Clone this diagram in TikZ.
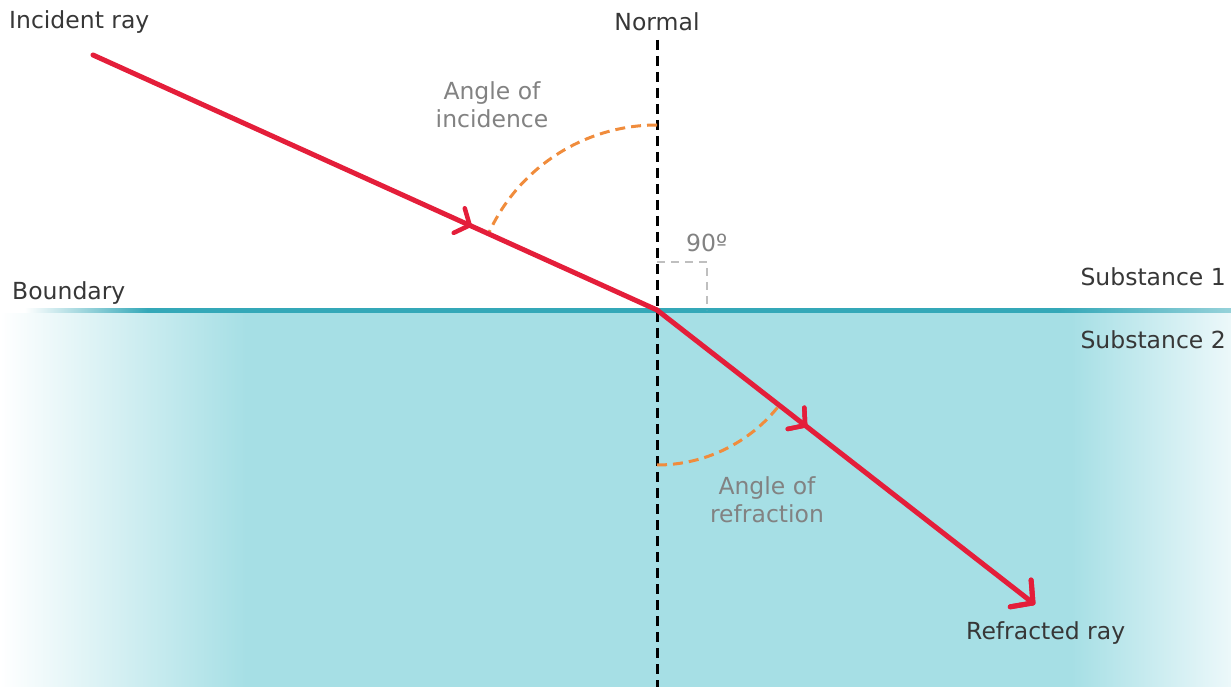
\documentclass[tikz,border=0pt]{standalone}
\usepackage{fontspec}
\setmainfont{DejaVu Sans}
\usepackage{xcolor}
\usetikzlibrary{positioning,arrows.meta,decorations.markings,calc}

\definecolor{rayred}{RGB}{228,30,58}
\definecolor{water}{RGB}{166,223,229}
\definecolor{paleend}{RGB}{236,248,250}
\definecolor{edgeteal}{RGB}{52,168,184}
\definecolor{edgepale}{RGB}{150,210,218}
\definecolor{arcorange}{RGB}{240,140,60}
\definecolor{labdark}{RGB}{55,55,55}
\definecolor{labgrey}{RGB}{130,130,130}

% fades of substance 2 and of the boundary (25bp..75bp covers the path)
\pgfdeclarehorizontalshading{waterfade}{100bp}{color(0bp)=(white); color(25bp)=(white);
  color(35bp)=(water); color(68.5bp)=(water); color(75bp)=(paleend); color(100bp)=(paleend)}
\pgfdeclarehorizontalshading{edgefade}{100bp}{color(0bp)=(white); color(26bp)=(white);
  color(31bp)=(edgeteal); color(68bp)=(edgeteal); color(75bp)=(edgepale); color(100bp)=(edgepale)}

\begin{document}
\begin{tikzpicture}[
  x=1pt, y=1pt,
  lab/.style={font=\fontsize{23.5}{28}\selectfont, text=labdark, inner sep=0pt, align=center},
  sublab/.style={lab, text=labgrey},
  ray/.style={rayred, line width=5pt, line cap=round},
  chev/.style={rayred, line width=4.5pt, line cap=round, line join=round},
  midtip/.style={postaction={decorate}, decoration={markings,
      mark=at position #1 with {\draw[chev] (-11.5pt,13.5pt) -- (0,0) -- (-11.5pt,-13.5pt);}}},
  endtip/.style={postaction={decorate}, decoration={markings,
      mark=at position 1 with {\draw[chev, line width=5pt] (-15.5pt,17pt) -- (0,0) -- (-15.5pt,-17pt);}}},
  normalline/.style={black, line width=3pt, dash pattern=on 10pt off 6pt},
  anglearc/.style={arcorange, line width=3pt, dash pattern=on 10pt off 6pt},
  rightmark/.style={black!25, line width=2.5pt, dash pattern=on 8pt off 6pt},
]
\useasboundingbox (0,0) rectangle (1231,686);

% --- substance 2 ---
\shade[shading=waterfade] (0,-4) rectangle (1231,374);

% --- boundary ---
\shade[shading=edgefade] (0,373.5) rectangle (1231,377.5);

% --- points ---
\coordinate (src) at (93,631);
\coordinate (hit) at (657,376);
\coordinate (dst) at (1033,83);
\coordinate (ntop) at (657,646);
\coordinate (nbot) at (657,-4);

% --- normal ---
\draw[normalline] (ntop) -- (nbot);

% --- right angle ---
\draw[rightmark] (hit) ++(0,48) -- ++(50,0) -- ++(0,-48);
\node[sublab, anchor=west] (ninety) at (686,443) {90º};

% --- angle arcs ---
\draw[anglearc] (hit) ++(90:185) arc[start angle=90, end angle=155.7, radius=185];
\draw[anglearc] (hit) ++(270:155) arc[start angle=270, end angle=322.1, radius=155];

% --- rays ---
\draw[ray, midtip=0.668] (src) -- (hit);
\draw[ray, midtip=0.394, endtip] (hit) -- (dst);

% --- labels ---
\node[lab, anchor=west] (incl) at (9,664) {Incident ray};
\node[lab] (norml) at (657,664) {Normal};
\node[sublab] (inca) at (492,581) {Angle of\\incidence};
\node[lab, anchor=west] (bndl) at (12,393) {Boundary};
\node[lab, anchor=east] (sub1) at (1226,409) {Substance 1};
\node[lab, anchor=east] (sub2) at (1226,346) {Substance 2};
\node[sublab] (refa) at (767,186) {Angle of\\refraction};
\node[lab, anchor=west] (refl) at (966,53) {Refracted ray};

\end{tikzpicture}
\end{document}
